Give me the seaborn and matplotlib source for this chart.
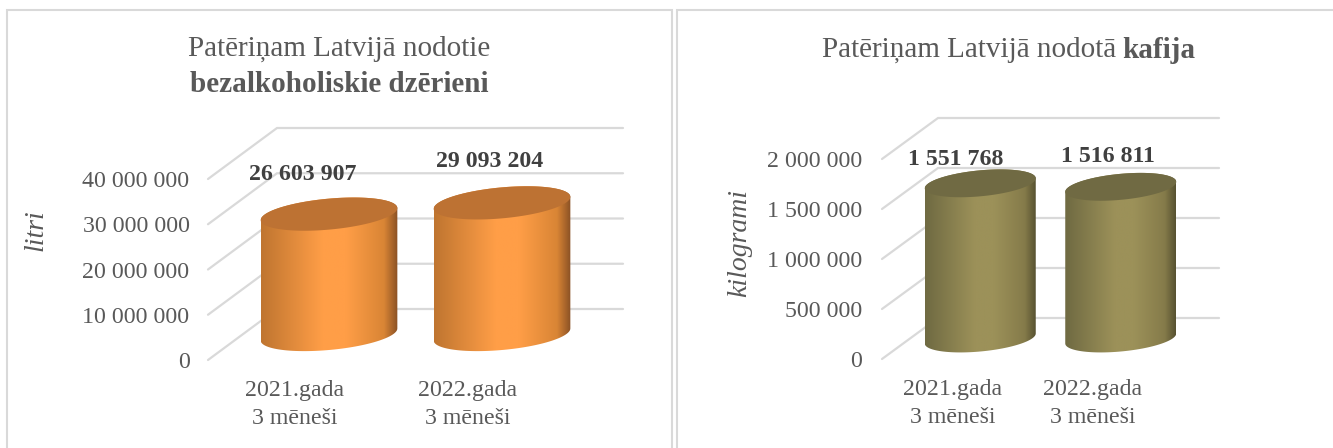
import numpy as np
import matplotlib
matplotlib.use('Agg')
import matplotlib.pyplot as plt
import seaborn as sns
from matplotlib.colors import LinearSegmentedColormap
from matplotlib.patches import PathPatch, Rectangle
from matplotlib.path import Path
from matplotlib.transforms import IdentityTransform

# dati
periodi = ['2021.gada\n3 mēneši', '2022.gada\n3 mēneši']
dzerieni = [26603907, 29093204]
kafija = [1551768, 1516811]
ticks_dzerieni = [0, 10000000, 20000000, 30000000, 40000000]
ticks_kafija = [0, 500000, 1000000, 1500000, 2000000]

W, H = 1333, 448
TEKSTS = '#595959'
LINIJA = '#D9D9D9'

sns.set_theme(style='white')
plt.rcParams['font.family'] = ['Liberation Serif', 'DejaVu Serif']
plt.rcParams['font.size'] = 17

fig = plt.figure(figsize=(W / 100, H / 100), dpi=100, facecolor='white')


def skaitlis(v):
    return f'{v:,}'.replace(',', ' ')


def cilindrs(ax, bar, dx, dy, B, C, cmap, vaks):
    # stabina geometrija no seaborn, pikselos
    x0, y0 = ax.transData.transform((bar.get_x(), 0))
    x1, y1 = ax.transData.transform((bar.get_x() + bar.get_width(), bar.get_height()))
    x0, x1 = x0 + dx / 2, x1 + dx / 2
    y0, y1 = y0 + dy / 2, y1 + dy / 2
    cx, A = (x0 + x1) / 2, (x1 - x0) / 2

    lejas = np.linspace(np.pi, 2 * np.pi, 60)
    augsa = np.linspace(0, np.pi, 60)
    visa = np.linspace(0, 2 * np.pi, 120)

    def elipse(t, yc):
        return np.column_stack([cx + A * np.cos(t), yc + C * np.cos(t) + B * np.sin(t)])

    korpuss = np.vstack([elipse(lejas, y0), elipse(augsa, y1)])
    grad = np.linspace(0, 1, 256).reshape(1, -1)
    p0 = ax.transData.inverted().transform((x0, y0 - B - C))
    p1 = ax.transData.inverted().transform((x1, y1 + B + C))
    im = ax.imshow(grad, cmap=cmap, aspect='auto', extent=(p0[0], p1[0], p0[1], p1[1]),
                   origin='lower', zorder=3)
    klips = PathPatch(Path(np.vstack([korpuss, korpuss[:1]]), closed=True),
                      transform=IdentityTransform())
    im.set_clip_box(fig.bbox)
    im.set_clip_path(klips)

    ax.add_patch(PathPatch(Path(elipse(visa, y1), closed=True), facecolor=vaks, edgecolor='none',
                           transform=IdentityTransform(), clip_on=False, zorder=4))


def grafiks(rect, vertibas, ticks, dx, dy, B, C, krasas, vaks, ylabel, label_xy, tick_pad,
            label_dx, label_dy):
    x, y, w, h = rect
    ax = fig.add_axes([x / W, (H - y - h) / H, w / W, h / H])
    sns.barplot(x=periodi, y=vertibas, ax=ax, width=0.79, color=krasas[1])
    ax.set_xlim(-0.5, 1.5)
    ax.set_ylim(ticks[0], ticks[-1])
    ax.patch.set_alpha(0)
    sns.despine(ax=ax, left=True, bottom=True)
    ax.grid(False)

    ax.set_yticks(ticks)
    ax.set_yticklabels([skaitlis(t) for t in ticks], color=TEKSTS, fontsize=17.2)
    ax.tick_params(axis='y', length=0, pad=tick_pad)
    ax.tick_params(axis='x', length=0, pad=14.5, labelcolor=TEKSTS, labelsize=17.2)
    ax.set_xticks([0, 1])
    ax.set_xticklabels(periodi, linespacing=1.42)
    ax.set_xlabel('')
    ax.set_ylabel(ylabel, style='italic', color=TEKSTS, fontsize=20)
    ax.yaxis.set_label_coords(*label_xy)

    # aizmugures rezgis un diagonales
    for t in ticks:
        xa, ya = ax.transData.transform((-0.5, t))
        xb = ax.transData.transform((1.5, t))[0]
        ax.plot([xa, xa + dx, xb + dx], [ya, ya + dy, ya + dy], color=LINIJA, lw=1.6,
                transform=IdentityTransform(), clip_on=False, zorder=1,
                solid_joinstyle='miter')

    cmap = LinearSegmentedColormap.from_list('c', list(zip([0, 0.45, 0.62, 0.9, 1], krasas)))
    stabini = list(ax.patches)
    for i, bar in enumerate(stabini):
        cilindrs(ax, bar, dx, dy, B, C, cmap, vaks)
        bar.set_visible(False)
        ax.annotate(skaitlis(vertibas[i]), (bar.get_x() + bar.get_width() / 2, bar.get_height()),
                    xytext=(dx / 2 + label_dx[i], dy / 2 + label_dy[i]), textcoords='offset pixels',
                    ha='center', va='center', fontsize=17.2, fontweight='bold', color='#404040',
                    annotation_clip=False, zorder=6)
    ax.set_xlim(-0.5, 1.5)
    ax.set_ylim(ticks[0], ticks[-1])
    return ax


def virsraksts(dalas, cx, y):
    # normala un trekna dala viena rinda, centreta
    r = fig.canvas.get_renderer()
    teksti = [fig.text(0, 1 - y / H, s, fontsize=21, color=TEKSTS, fontweight=fw, va='center')
              for s, fw in dalas]
    platumi = [t.get_window_extent(r).width for t in teksti]
    # atstarpe starp dalam
    x = cx - (sum(platumi) + 6 * (len(dalas) - 1)) / 2
    for t, p in zip(teksti, platumi):
        t.set_x(x / W)
        x += p + 6


# paneli
for x0, x1 in [(7, 672), (677, 1345)]:
    fig.add_artist(Rectangle((x0 / W, -0.05), (x1 - x0) / W, 1.05 - 10.5 / H, facecolor='none',
                             edgecolor=LINIJA, lw=1.5, transform=fig.transFigure))

oranzs = ['#BF7530', '#FF9E47', '#FF9E47', '#D98535', '#8A5125']
olivs = ['#6F6A42', '#9C9159', '#9C9159', '#857B4A', '#575231']

grafiks((208, 179, 346, 181), dzerieni, ticks_dzerieni, 69, 51, 15.5, 6, oranzs, '#BD7233',
        'litri', ((49 - 208) / 346, (360 - 230) / 181), 13.3, [-26, -12], [40, 41])
grafiks((882, 159, 281, 200), kafija, ticks_kafija, 56, 41, 13, 5, olivs, '#706A43',
        'kilogrami', ((752 - 882) / 281, (359 - 243) / 200), 14.3, [-25, -13], [24, 30])

virsraksts([('Patēriņam Latvijā nodotie', 'normal')], 339, 49)
virsraksts([('bezalkoholiskie dzērieni', 'bold')], 339, 84)
virsraksts([('Patēriņam Latvijā nodotā', 'normal'), ('kafija', 'bold')], 1009, 50)

fig.savefig('out.png', dpi=100, facecolor='white')
